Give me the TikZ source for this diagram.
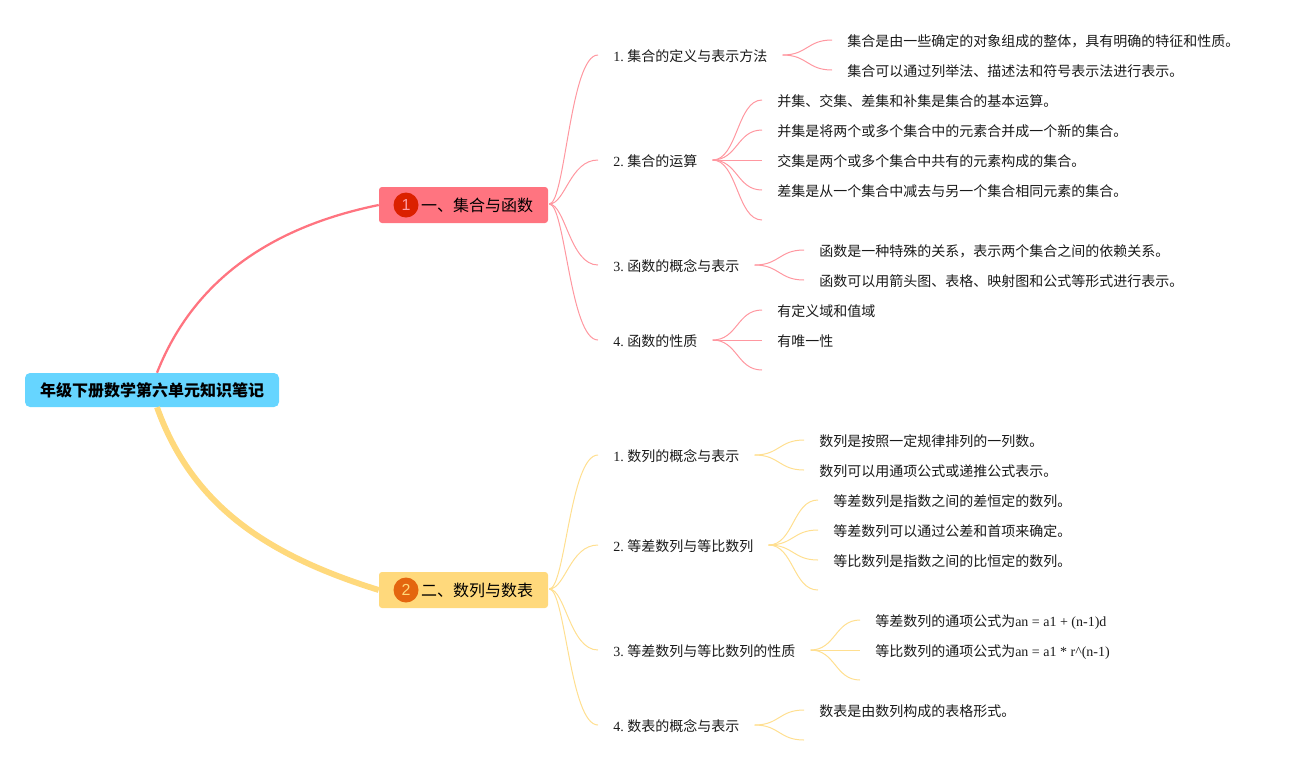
\documentclass[tikz,border=0pt]{standalone}
\usepackage{fontspec}
\setmainfont{Liberation Serif}
\newfontfamily\cjk{Noto Sans CJK SC}
\newfontfamily\numf{Liberation Sans}
\frenchspacing
\definecolor{rootc}{HTML}{66D5FF}
\definecolor{redc}{HTML}{FF7480}
\definecolor{yelc}{HTML}{FFD97C}
\definecolor{redd}{HTML}{DB2100}
\definecolor{yeld}{HTML}{E4660F}
\definecolor{inkc}{HTML}{1A1A1A}
\tikzset{
  x=0.75pt,y=-0.75pt,
  rootbox/.style={fill=rootc,rounded corners=3.75pt,minimum width=190.5pt,minimum height=25.5pt,inner sep=0pt,font=\cjk\bfseries\fontsize{12}{12}\selectfont,text=black},
  topbox/.style={rounded corners=2.25pt,minimum height=27pt,inner sep=0pt,font=\cjk\fontsize{12}{12}\selectfont,text=black},
  badge/.style={circle,minimum size=18.75pt,inner sep=0pt,font=\numf\fontsize{12}{12}\selectfont},
  lbl/.style={anchor=west,inner sep=0pt,text=inkc,font=\fontsize{10.5}{10.5}\selectfont,text height=9.5pt,text depth=0.5pt},
  redbr/.style={draw=redc!75,line width=0.75pt},
  yelbr/.style={draw=yelc!85,line width=0.75pt},
}
\newcommand\sbr[4][redbr]{\draw[#1] ([xshift=11.25pt]#2.east) .. controls +(#4,0) and +(-#4,0) .. (#3);}
\newcommand\lbr[4][redbr]{\draw[#1] ([xshift=11.25pt]#2.east) .. controls +(#4,0) and +(-#4,0) .. ([xshift=-11.25pt]#3.west);}
\newcommand\tbr[2][redbr]{\draw[#1] ([xshift=0.75pt,yshift=0.75pt]#2) .. controls +(16,0) and +(-28,0) .. ([xshift=-11.25pt]\t.west);}
\begin{document}
\begin{tikzpicture}
\useasboundingbox (0,0) rectangle (1299,765);
% main nodes
\node[rootbox] (root) at (152,390) {\raisebox{-0.75pt}{年级下册数学第六单元知识笔记}};
\node[topbox,fill=redc] (s1) at (463.5,205) {\hspace*{31.5pt}\raisebox{-0.75pt}{一、集合与函数}\hspace*{11.25pt}};
\node[topbox,fill=yelc] (s2) at (463.5,590) {\hspace*{31.5pt}\raisebox{-0.75pt}{二、数列与数表}\hspace*{11.25pt}};
\node[badge,fill=redd,text=redc!70!white] (b1) at (406,205) {1};
\node[badge,fill=yeld,text=yelc] (b2) at (406,590) {2};
% level two
\node[lbl] (a1) at (613,55) {1. {\cjk 集合的定义与表示方法}};
\node[lbl] (a2) at (613,160) {2. {\cjk 集合的运算}};
\node[lbl] (a3) at (613,265) {3. {\cjk 函数的概念与表示}};
\node[lbl] (a4) at (613,340) {4. {\cjk 函数的性质}};
\node[lbl] (c1) at (613,455) {1. {\cjk 数列的概念与表示}};
\node[lbl] (c2) at (613,545) {2. {\cjk 等差数列与等比数列}};
\node[lbl] (c3) at (613,650) {3. {\cjk 等差数列与等比数列的性质}};
\node[lbl] (c4) at (613,725) {4. {\cjk 数表的概念与表示}};
% leaves
\node[lbl] (a11) at (847,40) {\cjk 集合是由一些确定的对象组成的整体，具有明确的特征和性质。};
\node[lbl] (a12) at (847,70) {\cjk 集合可以通过列举法、描述法和符号表示法进行表示。};
\node[lbl] (a21) at (777,100) {\cjk 并集、交集、差集和补集是集合的基本运算。};
\node[lbl] (a22) at (777,130) {\cjk 并集是将两个或多个集合中的元素合并成一个新的集合。};
\node[lbl] (a23) at (777,160) {\cjk 交集是两个或多个集合中共有的元素构成的集合。};
\node[lbl] (a24) at (777,190) {\cjk 差集是从一个集合中减去与另一个集合相同元素的集合。};
\coordinate (a25) at (762,220);
\node[lbl] (a31) at (819,250) {\cjk 函数是一种特殊的关系，表示两个集合之间的依赖关系。};
\node[lbl] (a32) at (819,280) {\cjk 函数可以用箭头图、表格、映射图和公式等形式进行表示。};
\node[lbl] (a41) at (777,310) {\cjk 有定义域和值域};
\node[lbl] (a42) at (777,340) {\cjk 有唯一性};
\coordinate (a43) at (762,370);
\node[lbl] (c11) at (819,440) {\cjk 数列是按照一定规律排列的一列数。};
\node[lbl] (c12) at (819,470) {\cjk 数列可以用通项公式或递推公式表示。};
\node[lbl] (c21) at (833,500) {\cjk 等差数列是指数之间的差恒定的数列。};
\node[lbl] (c22) at (833,530) {\cjk 等差数列可以通过公差和首项来确定。};
\node[lbl] (c23) at (833,560) {\cjk 等比数列是指数之间的比恒定的数列。};
\coordinate (c24) at (818,590);
\node[lbl] (c31) at (875,620) {{\cjk 等差数列的通项公式为}an = a1 + (n-1)d};
\node[lbl] (c32) at (875,650) {{\cjk 等比数列的通项公式为}an = a1 * r\char`\^(n-1)};
\coordinate (c33) at (860,680);
\node[lbl] (c41) at (819,710) {\cjk 数表是由数列构成的表格形式。};
\coordinate (c42) at (804,740);
% main connectors
\draw[redc,line width=1.7pt] ([xshift=3.75pt]root.north) .. controls (192,284) and (266,228) .. (s1.west);
\draw[yelc,line width=4.4pt] ([xshift=3.75pt]root.south) .. controls (192,505) and (266,555) .. (s2.west);
% section to level two
\foreach \t in {a1,a2,a3,a4}{\tbr{s1.east}}
\foreach \t in {c1,c2,c3,c4}{\tbr[yelbr]{s2.east}}
% level two to leaves
\lbr{a1}{a11}{25}\lbr{a1}{a12}{25}
\lbr{a2}{a21}{25}\lbr{a2}{a22}{25}\lbr{a2}{a23}{25}\lbr{a2}{a24}{25}\sbr{a2}{a25}{25}
\lbr{a3}{a31}{25}\lbr{a3}{a32}{25}
\lbr{a4}{a41}{25}\lbr{a4}{a42}{25}\sbr{a4}{a43}{25}
\lbr[yelbr]{c1}{c11}{25}\lbr[yelbr]{c1}{c12}{25}
\lbr[yelbr]{c2}{c21}{25}\lbr[yelbr]{c2}{c22}{25}\lbr[yelbr]{c2}{c23}{25}\sbr[yelbr]{c2}{c24}{25}
\lbr[yelbr]{c3}{c31}{25}\lbr[yelbr]{c3}{c32}{25}\sbr[yelbr]{c3}{c33}{25}
\lbr[yelbr]{c4}{c41}{25}\sbr[yelbr]{c4}{c42}{25}
\end{tikzpicture}
\end{document}
